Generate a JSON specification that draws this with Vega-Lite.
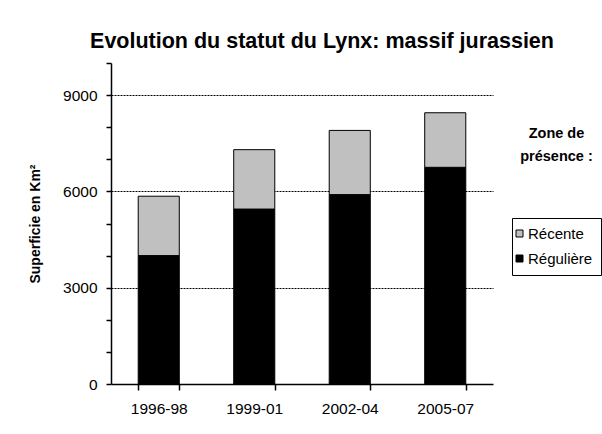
{
 "$schema": "https://vega.github.io/schema/vega-lite/v6.json",
 "width": 382,
 "height": 321,
 "autosize": "none",
 "padding": {"left": 111, "top": 63, "right": 109, "bottom": 50},
 "background": "white",
 "title": {"text": "Evolution du statut du Lynx: massif jurassien", "fontSize": 21.5, "font": "Liberation Sans", "fontWeight": "bold", "anchor": "middle", "dx": 20, "offset": 4, "color": "black"},
 "data": {"values": [
  {"periode": "1996-98", "zone": "Régulière", "superficie": 4000},
  {"periode": "1996-98", "zone": "Récente", "superficie": 1850},
  {"periode": "1999-01", "zone": "Régulière", "superficie": 5450},
  {"periode": "1999-01", "zone": "Récente", "superficie": 1850},
  {"periode": "2002-04", "zone": "Régulière", "superficie": 5900},
  {"periode": "2002-04", "zone": "Récente", "superficie": 2000},
  {"periode": "2005-07", "zone": "Régulière", "superficie": 6750},
  {"periode": "2005-07", "zone": "Récente", "superficie": 1700}
 ]},
 "mark": {"type": "bar", "stroke": "black", "strokeWidth": 1},
 "encoding": {
  "x": {"field": "periode", "type": "nominal", "sort": null,
   "scale": {"paddingInner": 0.57, "paddingOuter": 0.285},
   "axis": {"title": ["Zone de", "présence :"], "titleFontSize": 14.5, "titleFontWeight": "bold", "titleAngle": 0, "titleAlign": "center", "titleBaseline": "top", "titleX": 445, "titleY": -258, "titleLineHeight": 23, "titleColor": "black",
    "labelAngle": 0, "labelFontSize": 15.5, "labelColor": "black", "tickBand": "extent", "tickSize": 6, "tickColor": "black", "tickWidth": 1.5, "domainColor": "black", "domainWidth": 1.5, "labelPadding": 11}},
  "y": {"field": "superficie", "type": "quantitative", "stack": "zero",
   "scale": {"domain": [0, 10000], "nice": false},
   "axis": {"title": "Superficie en Km²", "titleFontSize": 14, "titleFontWeight": "bold", "titlePadding": 20, "titleColor": "black",
    "values": [0, 1000, 2000, 3000, 4000, 5000, 6000, 7000, 8000, 9000, 10000],
    "format": "d", "labelExpr": "datum.value % 3000 === 0 ? datum.label : ''", "labelOverlap": false,
    "labelFontSize": 15.5, "labelColor": "black", "tickSize": 5, "tickColor": "black", "tickWidth": 1.5, "domainColor": "black", "domainWidth": 1.5, "labelPadding": 9,
    "grid": true, "gridColor": "black", "gridDash": [2, 1], "gridWidth": 1,
    "gridOpacity": {"condition": {"test": "datum.value % 3000 === 0 && datum.value > 0 && datum.value < 10000", "value": 1}, "value": 0}}},
  "color": {"field": "zone", "type": "nominal",
   "scale": {"domain": ["Récente", "Régulière"], "range": ["#c0c0c0", "#000000"]},
   "legend": {"title": null, "orient": "none", "legendX": 401, "legendY": 155, "strokeColor": "black", "fillColor": "white", "padding": 8, "symbolOffset": -8, "symbolType": "square", "symbolSize": 49, "symbolStrokeColor": "black", "symbolStrokeWidth": 1, "labelFontSize": 15, "labelColor": "black", "labelOffset": 1, "rowPadding": 9}},
  "order": {"field": "zone", "sort": "descending"}
 },
 "config": {"view": {"stroke": null}, "font": "Liberation Sans"}
}
